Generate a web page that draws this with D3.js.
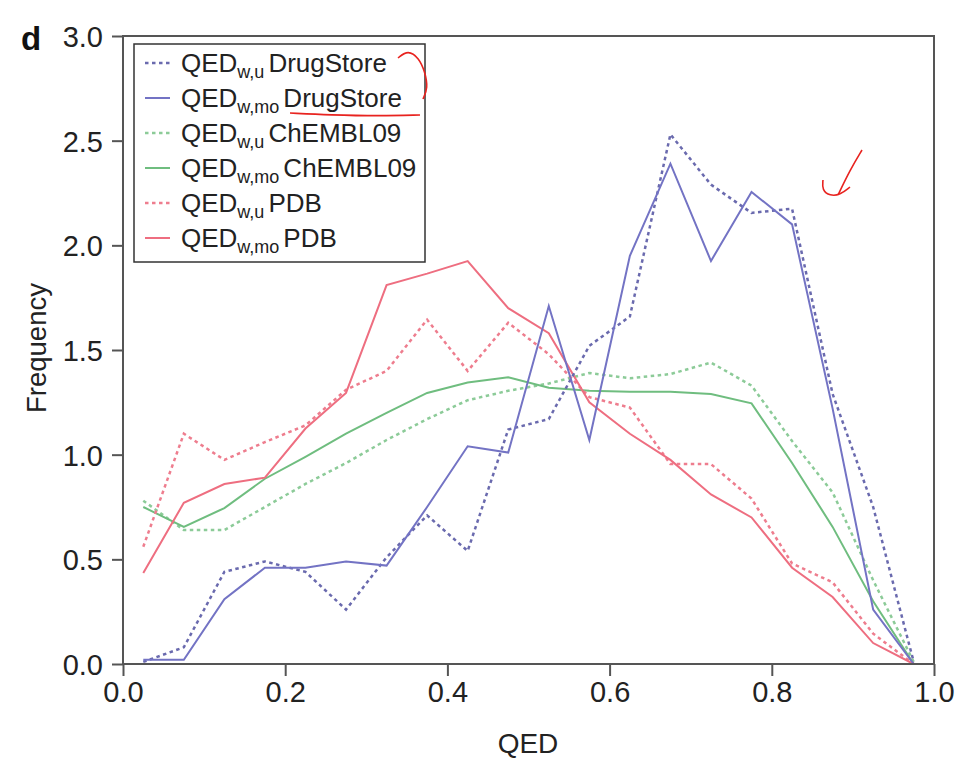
<!DOCTYPE html>
<html><head><meta charset="utf-8">
<script src="https://cdn.jsdelivr.net/npm/d3@7"></script>
<style>body{margin:0;background:#fff}svg{display:block}text{font-family:"Liberation Sans",Arial,sans-serif}</style>
</head><body>
<svg id="c" width="966" height="769"></svg>
<script>
const bins = [0.025,0.075,0.125,0.175,0.225,0.275,0.325,0.375,0.425,0.475,0.525,0.575,0.625,0.675,0.725,0.775,0.825,0.875,0.925,0.975];
const drugStoreU  = [0.01,0.08,0.44,0.49,0.44,0.26,0.51,0.71,0.54,1.12,1.17,1.52,1.66,2.53,2.29,2.155,2.175,1.29,0.75,0.01];
const drugStoreMo = [0.02,0.02,0.31,0.46,0.46,0.49,0.47,0.75,1.04,1.01,1.71,1.07,1.95,2.39,1.925,2.255,2.10,1.22,0.26,0.0];
const chemblU     = [0.78,0.64,0.64,0.75,0.86,0.96,1.07,1.17,1.26,1.305,1.34,1.39,1.365,1.385,1.44,1.33,1.065,0.82,0.40,0.01];
const chemblMo    = [0.75,0.655,0.745,0.885,0.99,1.10,1.20,1.295,1.345,1.37,1.32,1.305,1.30,1.30,1.29,1.245,0.96,0.655,0.30,0.0];
const pdbU        = [0.56,1.10,0.975,1.06,1.14,1.31,1.40,1.645,1.40,1.63,1.48,1.275,1.225,0.955,0.955,0.79,0.48,0.39,0.145,0.0];
const pdbMo       = [0.435,0.77,0.86,0.89,1.125,1.295,1.81,1.865,1.925,1.70,1.58,1.25,1.10,0.975,0.81,0.70,0.46,0.32,0.10,0.0];
const xTicks = [0,0.2,0.4,0.6,0.8,1.0];
const yTicks = [0,0.5,1.0,1.5,2.0,2.5,3.0];
const legendSubs = ["w,u","w,mo","w,u","w,mo","w,u","w,mo"];
const legendNames = ["DrugStore","DrugStore","ChEMBL09","ChEMBL09","PDB","PDB"];

const svg = d3.select("#c");
const x = d3.scaleLinear().domain([0,1]).range([123,934]);
const y = d3.scaleLinear().domain([0,3]).range([664,36]);

const series = [
  {v:chemblU, c:"#8ccb98", dash:true},
  {v:chemblMo, c:"#6fbd7f", dash:false},
  {v:pdbU, c:"#ee7d8e", dash:true},
  {v:pdbMo, c:"#ee6e80", dash:false},
  {v:drugStoreU, c:"#6a6aae", dash:true},
  {v:drugStoreMo, c:"#7373c4", dash:false}
];
const line = d3.line().x((d,i)=>x(bins[i])).y(d=>y(d));
series.forEach(s=>{
  svg.append("path").attr("d",line(s.v)).attr("fill","none")
    .attr("stroke",s.c).attr("stroke-width",s.dash?2.5:2)
    .attr("stroke-dasharray",s.dash?"3.5,3.5":null);
});

// axes
svg.append("rect").attr("x",x(0)).attr("y",y(3)).attr("width",x(1)-x(0)).attr("height",y(0)-y(3))
  .attr("fill","none").attr("stroke","#555").attr("stroke-width",2);
const xa = svg.append("g").attr("transform","translate(0,664)")
  .call(d3.axisBottom(x).tickValues(xTicks).tickFormat(d3.format(".1f")).tickSize(12).tickPadding(5));
const ya = svg.append("g").attr("transform","translate(123,0)")
  .call(d3.axisLeft(y).tickValues(yTicks).tickFormat(d3.format(".1f")).tickSize(11).tickPadding(9));
[xa,ya].forEach(g=>{
  g.select(".domain").remove();
  g.selectAll("line").attr("stroke","#555").attr("stroke-width",2);
  g.selectAll("text").attr("font-size",29).attr("fill","#222").attr("font-family","Liberation Sans, Arial, sans-serif");
});
ya.selectAll("text").attr("dy","0.36em");

svg.append("text").attr("x",528).attr("y",753).attr("text-anchor","middle").attr("font-size",28).attr("fill","#222").text("QED");
svg.append("text").attr("transform","translate(46,348) rotate(-90)").attr("text-anchor","middle").attr("font-size",27.5).attr("fill","#222").text("Frequency");
svg.append("text").attr("x",21).attr("y",50).attr("font-size",33).attr("font-weight","bold").attr("fill","#111").text("d");

// legend
const lg = svg.append("g");
lg.append("rect").attr("x",134).attr("y",44).attr("width",291).attr("height",218).attr("fill","#fff").attr("stroke","#333").attr("stroke-width",1.5);
const order = [4,5,0,1,2,3];
order.forEach((si,i)=>{
  const s = series[si];
  const yy = 63 + i*35;
  lg.append("line").attr("x1",145).attr("x2",170).attr("y1",yy).attr("y2",yy)
    .attr("stroke",s.c).attr("stroke-width",s.dash?2.5:2).attr("stroke-dasharray",s.dash?"3.5,3.5":null);
  const t = lg.append("text").attr("x",181).attr("y",yy+9).attr("font-size",26).attr("fill","#222");
  t.append("tspan").text("QED");
  t.append("tspan").attr("font-size",18).attr("dy",6).text(legendSubs[i]);
  t.append("tspan").attr("dy",-6).attr("dx",4).text(legendNames[i]);
});

// hand-drawn red annotations
const ann = [
  [[398,58],[408,50],[419,58],[425,72],[428,88],[423,99]],
  [[290,113],[330,115],[380,116],[420,115]],
  [[862,150],[850,170],[838,195]],
  [[823,180],[822,190],[830,196],[840,195],[850,187]]
];
const cl = d3.line().curve(d3.curveBasis);
ann.forEach(p=>svg.append("path").attr("d",cl(p)).attr("fill","none").attr("stroke","#e8231f").attr("stroke-width",1.6));
</script>
</body></html>
